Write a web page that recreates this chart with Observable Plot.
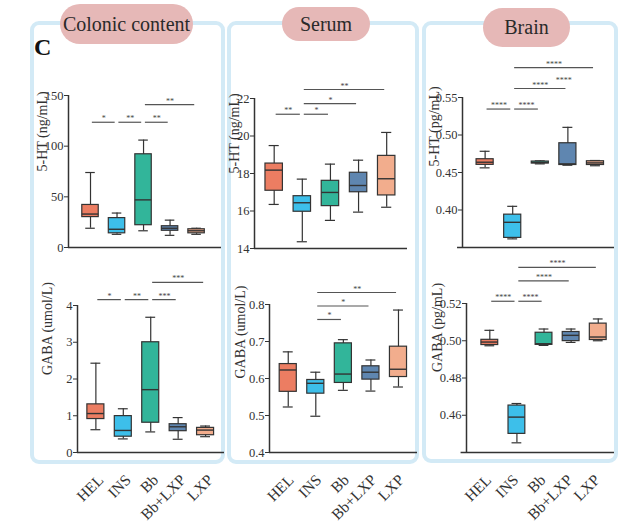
<!DOCTYPE html>
<html><head><meta charset="utf-8">
<script src="https://cdn.jsdelivr.net/npm/d3@7"></script>
<script src="https://cdn.jsdelivr.net/npm/@observablehq/plot@0.6"></script>
<style>
body{margin:0;background:#fff;}
#fig{position:relative;width:636px;height:532px;overflow:hidden;font-family:"Liberation Serif","Times New Roman",serif;background:#fff;}
.panel{position:absolute;border:4px solid #d3eaf6;border-radius:9px;box-sizing:border-box;}
.pill{position:absolute;background:#e6b8b7;border-radius:20px;display:flex;align-items:center;justify-content:center;font-size:20px;color:#2a2a2a;}
.plot{position:absolute;}
.plot svg{overflow:visible;}
.letter{position:absolute;font-size:24px;font-weight:bold;line-height:24px;color:#111;}
</style></head><body><div id="fig"></div>
<script>
const groups = ["HEL","INS","Bb","Bb+LXP","LXP"];
const colors = ["#ec7d62","#3dbfea","#32b59a","#5f86b0","#f2ad8d"];
// each group: [min, q1, median, q3, max]
const colonic5HT = [[19,30,33,42,74],[13,14,18,29,34],[16.5,22,47,92,106],[12,16.5,19,21,27],[13,14,16.5,18,19]];
const colonicGABA = [[0.62,0.91,1.06,1.31,2.43],[0.37,0.43,0.60,0.99,1.19],[0.56,0.81,1.71,3.0,3.68],[0.36,0.58,0.70,0.77,0.95],[0.43,0.47,0.61,0.67,0.72]];
const serum5HT = [[16.35,17.08,18.18,18.53,19.49],[14.36,15.96,16.44,16.79,17.7],[15.5,16.26,16.99,17.61,18.5],[15.94,17.0,17.36,18.04,18.71],[16.2,16.83,17.72,18.94,20.19]];
const serumGABA = [[0.523,0.564,0.623,0.639,0.672],[0.498,0.559,0.587,0.596,0.617],[0.568,0.588,0.612,0.695,0.705],[0.566,0.597,0.617,0.633,0.650],[0.577,0.604,0.625,0.686,0.785]];
const brain5HT = [[0.4562,0.4602,0.4637,0.4677,0.4783],[0.3615,0.3628,0.3836,0.3938,0.4049],[0.4615,0.462,0.4633,0.4646,0.4655],[0.4597,0.46,0.4615,0.489,0.5102],[0.459,0.46,0.4628,0.465,0.466]];
const brainGABA = [[0.4973,0.4977,0.4993,0.5005,0.5056],[0.4452,0.450,0.459,0.4652,0.4663],[0.4975,0.4978,0.4984,0.5043,0.5063],[0.4991,0.4998,0.5029,0.5047,0.5063],[0.50,0.5004,0.502,0.5092,0.5117]];
// significance bars: [from group, to group, y value, label]
const colonic5HTSig = [[0,1,123.6,"*"],[1,2,123.6,"**"],[2,3,123.6,"**"],[2,4,141,"**"]];
const colonicGABASig = [[0,1,4.16,"*"],[1,2,4.16,"**"],[2,3,4.16,"***"],[2,4,4.63,"***"]];
const serum5HTSig = [[0,1,21.16,"**"],[1,2,21.16,"*"],[1,3,21.73,"*"],[1,4,22.48,"**"]];
const serumGABASig = [[1,2,0.7595,"*"],[1,3,0.796,"*"],[1,4,0.8324,"**"]];
const brain5HTSig = [[0,1,0.5346,"****"],[1,2,0.5346,"****"],[1,3,0.562,"****"],[1,4,0.5898,"****"]];
const brain5HTExtra = [[2.85,0.5695,"****"]];
const brainGABASig = [[0,1,0.5212,"****"],[1,2,0.5212,"****"],[1,3,0.5322,"****"],[1,4,0.5394,"****"]];
// tick values
const colonic5HTTicks = [0,50,100,150];
const colonicGABATicks = [0,1,2,3,4];
const serum5HTTicks = [14,16,18,20,22];
const serumGABATicks = [0.4,0.5,0.6,0.7,0.8];
const brain5HTTicks = [0.40,0.45,0.50,0.55];
const brainGABATicks = [0.46,0.48,0.50,0.52];
const tissues = ["Colonic content","Serum","Brain"];

const ink = "#333";
const fig = document.getElementById("fig");

function add(html){ const t=document.createElement("div"); t.innerHTML=html; const el=t.firstChild; fig.appendChild(el); return el; }

// panels
add(`<div class="panel" style="left:30px;top:21px;width:195px;height:443px"></div>`);
add(`<div class="panel" style="left:227px;top:21px;width:192px;height:443px"></div>`);
add(`<div class="panel" style="left:422px;top:21px;width:196px;height:442px"></div>`);

const cfgs = [
 {data:colonic5HT, sig:colonic5HTSig, ticks:colonic5HTTicks, fmt:d=>d, label:"5-HT (ng/mL)", left:0, top:60, width:230, height:200, mL:68, mR:9, mT:35, mB:13, xd:[-0.83,4.94], yd:[0,150], lo:26, showX:false},
 {data:colonicGABA, sig:colonicGABASig, ticks:colonicGABATicks, fmt:d=>d, label:"GABA (umol/L)", left:0, top:260, width:230, height:272, mL:77, mR:6, mT:45, mB:80, xd:[-0.67,4.69], yd:[0,4], lo:30, dyl:-4, showX:true, lx:5},
 {data:serum5HT, sig:serum5HTSig, ticks:serum5HTTicks, fmt:d=>d, label:"5-HT (ng/mL)", left:220, top:60, width:200, height:200, mL:34, mR:13, mT:38, mB:12, xd:[-0.70,4.74], yd:[14,22], lo:20, showX:false},
 {data:serumGABA, sig:serumGABASig, ticks:serumGABATicks, fmt:d3.format(".1f"), label:"GABA (umol/L)", left:220, top:260, width:200, height:272, mL:49, mR:3, mT:44, mB:80, xd:[-0.68,4.69], yd:[0.4,0.8], lo:29, showX:true, lx:3},
 {data:brain5HT, sig:brain5HTSig, extra:brain5HTExtra, ticks:brain5HTTicks, fmt:d3.format(".2f"), label:"5-HT (pg/mL)", left:410, top:60, width:226, height:200, mL:52, mR:22, mT:37, mB:13, xd:[-0.82,4.69], yd:[0.35,0.55], lo:28, dyl:-6, showX:false, ext:0.18},
 {data:brainGABA, sig:brainGABASig, ticks:brainGABATicks, fmt:d3.format(".2f"), label:"GABA (pg/mL)", left:410, top:260, width:226, height:272, mL:56, mR:22, mT:43, mB:80, xd:[-0.86,4.6], yd:[0.44,0.52], lo:29, dyl:-6, showX:true, lx:-1, ext:0.2}
];

const hw = 0.31, ch = 0.18;
for (const c of cfgs) {
  const rows = c.data.map((v,i)=>({i, g:groups[i], c:colors[i], min:v[0], q1:v[1], med:v[2], q3:v[3], max:v[4]}));
  const sig = c.sig.map(s=>({a:s[0], b:s[1], y:s[2], t:s[3]}));
  const y0 = c.yd[0];
  const marks = [
    Plot.ruleY([y0], {x1: c.xd[0]-(c.ext||0), x2: c.xd[1], stroke: ink, strokeWidth: 1.5}),
    Plot.ruleX([c.xd[0]], {y1: y0, y2: c.yd[1], stroke: ink, strokeWidth: 1.5}),
    Plot.ruleX(rows, {x:"i", y1:"min", y2:"max", stroke: ink, strokeWidth: 1.2}),
    Plot.ruleY(rows, {y:"max", x1:d=>d.i-ch, x2:d=>d.i+ch, stroke: ink, strokeWidth: 1.2}),
    Plot.ruleY(rows, {y:"min", x1:d=>d.i-ch, x2:d=>d.i+ch, stroke: ink, strokeWidth: 1.2}),
    Plot.rect(rows, {x1:d=>d.i-hw, x2:d=>d.i+hw, y1:"q1", y2:"q3", fill:"c", stroke: ink, strokeWidth: 1.2}),
    Plot.ruleY(rows, {y:"med", x1:d=>d.i-hw, x2:d=>d.i+hw, stroke: ink, strokeWidth: 1.4}),
    Plot.ruleY(sig, {y:"y", x1:d=>d.a+0.07, x2:d=>d.b-0.07, stroke:"#555", strokeWidth: 1.2}),
    Plot.text(sig, {x:d=>(d.a+d.b)/2, y:"y", text:"t", lineAnchor:"bottom", dy:-1, fontSize:8, fill:"#444"}),
    Plot.text([c.label], {frameAnchor:"left", text:d=>d, rotate:-90, dx:-c.lo, dy:c.dyl||0, fontSize:14, fill:ink})
  ];
  if (c.extra) marks.push(Plot.text(c.extra.map(e=>({x:e[0], y:e[1], t:e[2]})), {x:"x", y:"y", text:"t", lineAnchor:"bottom", fontSize:8, fill:"#444"}));
  if (c.showX) marks.push(Plot.text(rows, {x:"i", y:()=>y0, text:"g", rotate:-45, textAnchor:"end", dy:25, dx:c.lx||0, fontSize:15.5, fill:ink}));
  const svg = Plot.plot({
    width: c.width, height: c.height,
    marginLeft: c.mL, marginRight: c.mR, marginTop: c.mT, marginBottom: c.mB,
    x: {domain: c.xd, axis: null},
    y: {domain: c.yd, ticks: c.ticks, tickFormat: c.fmt, tickSize: 4, tickPadding: 1, label: null},
    color: {type: "identity"},
    style: {background: "transparent", fontFamily: "'Liberation Serif','Times New Roman',serif", fontSize: "12.5px", color: ink, overflow: "visible"},
    marks
  });
  const holder = document.createElement("div");
  holder.className = "plot";
  holder.style.left = c.left + "px"; holder.style.top = c.top + "px";
  holder.style.width = c.width + "px"; holder.style.height = c.height + "px";
  holder.appendChild(svg);
  fig.appendChild(holder);
}

add(`<div class="pill" style="left:60px;top:4px;width:133px;height:40px">${tissues[0]}</div>`);
add(`<div class="pill" style="left:282px;top:7px;width:88px;height:34px">${tissues[1]}</div>`);
add(`<div class="pill" style="left:483px;top:8px;width:87px;height:39px">${tissues[2]}</div>`);
add(`<div class="letter" style="left:34px;top:35px">C</div>`);
</script></body></html>
